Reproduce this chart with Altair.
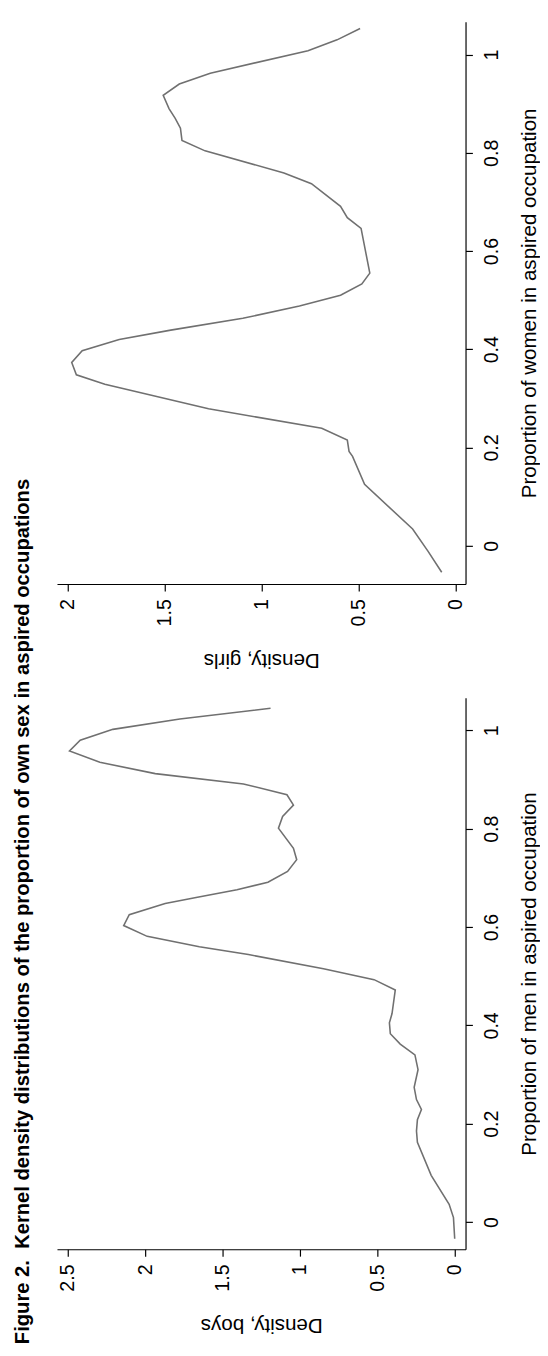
import altair as alt
import pandas as pd

FONT = "Liberation Sans"

title_text = "Figure 2.\u00a0 Kernel density distributions of the proportion of own sex in aspired occupations"

girls_x_title = "Density, girls"
boys_x_title = "Density, boys"
girls_y_title = "Proportion of women in aspired occupation"
boys_y_title = "Proportion of men in aspired occupation"

girls_prop = [-0.054, -0.011, 0.034, 0.125, 0.182, 0.192, 0.215, 0.239, 0.279, 0.329,
              0.348, 0.373, 0.397, 0.420, 0.439, 0.463, 0.488, 0.510, 0.533, 0.555,
              0.646, 0.668, 0.691, 0.737, 0.759, 0.804, 0.825, 0.850, 0.870, 0.890,
              0.917, 0.940, 0.962, 1.008, 1.030, 1.053]
girls_dens = [0.071, 0.142, 0.221, 0.469, 0.531, 0.549, 0.558, 0.690, 1.274, 1.809,
              1.956, 1.98, 1.926, 1.735, 1.469, 1.097, 0.805, 0.593, 0.483, 0.442,
              0.487, 0.558, 0.593, 0.743, 0.885, 1.292, 1.411, 1.419, 1.446, 1.478,
              1.508, 1.425, 1.265, 0.761, 0.611, 0.492]

boys_prop = [-0.034, 0.009, 0.036, 0.095, 0.162, 0.185, 0.208, 0.229, 0.249, 0.274,
             0.310, 0.340, 0.362, 0.383, 0.405, 0.424, 0.472, 0.493, 0.515, 0.544,
             0.560, 0.581, 0.603, 0.625, 0.648, 0.660, 0.676, 0.691, 0.713, 0.737,
             0.760, 0.801, 0.825, 0.848, 0.869, 0.891, 0.912, 0.935, 0.958, 0.980,
             1.002, 1.023, 1.045]
boys_dens = [0.0, 0.008, 0.036, 0.152, 0.241, 0.247, 0.241, 0.215, 0.247, 0.262,
             0.237, 0.257, 0.352, 0.416, 0.422, 0.405, 0.384, 0.521, 0.848, 1.333,
             1.650, 1.987, 2.139, 2.103, 1.871, 1.671, 1.407, 1.207, 1.080, 1.021,
             1.042, 1.139, 1.112, 1.042, 1.084, 1.365, 1.935, 2.293, 2.489, 2.420,
             2.209, 1.776, 1.190]

girls_x_ticks = [0, 0.5, 1, 1.5, 2]
boys_x_ticks = [0, 0.5, 1, 1.5, 2, 2.5]
prop_ticks = [0, 0.2, 0.4, 0.6, 0.8, 1]

girls_x_domain = [-0.052, 2.056]
boys_x_domain = [-0.070, 2.570]
girls_y_domain = [-0.078, 1.067]
boys_y_domain = [-0.0554, 1.0664]


def panel(prop, dens, xdom, ydom, xticks, xtitle, ytitle, h):
    df = pd.DataFrame({"p": prop, "d": dens})
    return alt.Chart(df).mark_line(color="#707070", strokeWidth=1.6).encode(
        x=alt.X("d:Q",
                scale=alt.Scale(domain=xdom, reverse=True, nice=False, zero=False),
                axis=alt.Axis(values=xticks, format="~g", title=xtitle, orient="bottom",
                              labelAngle=270, labelAlign="right", labelBaseline="middle",
                              labelPadding=8, tickSize=7, titleAngle=180,
                              titleBaseline="bottom", titlePadding=24,
                              labelOverlap=False)),
        y=alt.Y("p:Q",
                scale=alt.Scale(domain=ydom, nice=False, zero=False),
                axis=alt.Axis(values=prop_ticks, format="~g", title=ytitle, orient="right",
                              labelAngle=270, labelAlign="center", labelBaseline="top",
                              labelPadding=10, tickSize=7, titleAngle=270,
                              titleBaseline="top", titlePadding=17,
                              labelOverlap=False)),
        order=alt.Order("p:Q"),
    ).properties(width=417, height=h)


girls = panel(girls_prop, girls_dens, girls_x_domain, girls_y_domain, girls_x_ticks,
              girls_x_title, girls_y_title, 574)
boys = panel(boys_prop, boys_dens, boys_x_domain, boys_y_domain, boys_x_ticks,
             boys_x_title, boys_y_title, 563)

chart = alt.vconcat(girls, boys, spacing=28).properties(
    title=alt.TitleParams(text=title_text, orient="left", anchor="start", offset=24,
                          fontSize=20.6, font=FONT, fontWeight="bold", color="black",
                          dx=-9),
    padding={"left": 5, "top": 0, "right": 0, "bottom": 0},
).configure_axis(
    labelFont=FONT, labelFontSize=20, labelColor="black",
    titleFont=FONT, titleFontSize=21, titleFontWeight="normal", titleColor="black",
    domainColor="black", tickColor="black", domainWidth=1.2, tickWidth=1.2, grid=False,
).configure_view(stroke=None)

chart.save("out.html", embed_options={"renderer": "svg", "actions": False})
